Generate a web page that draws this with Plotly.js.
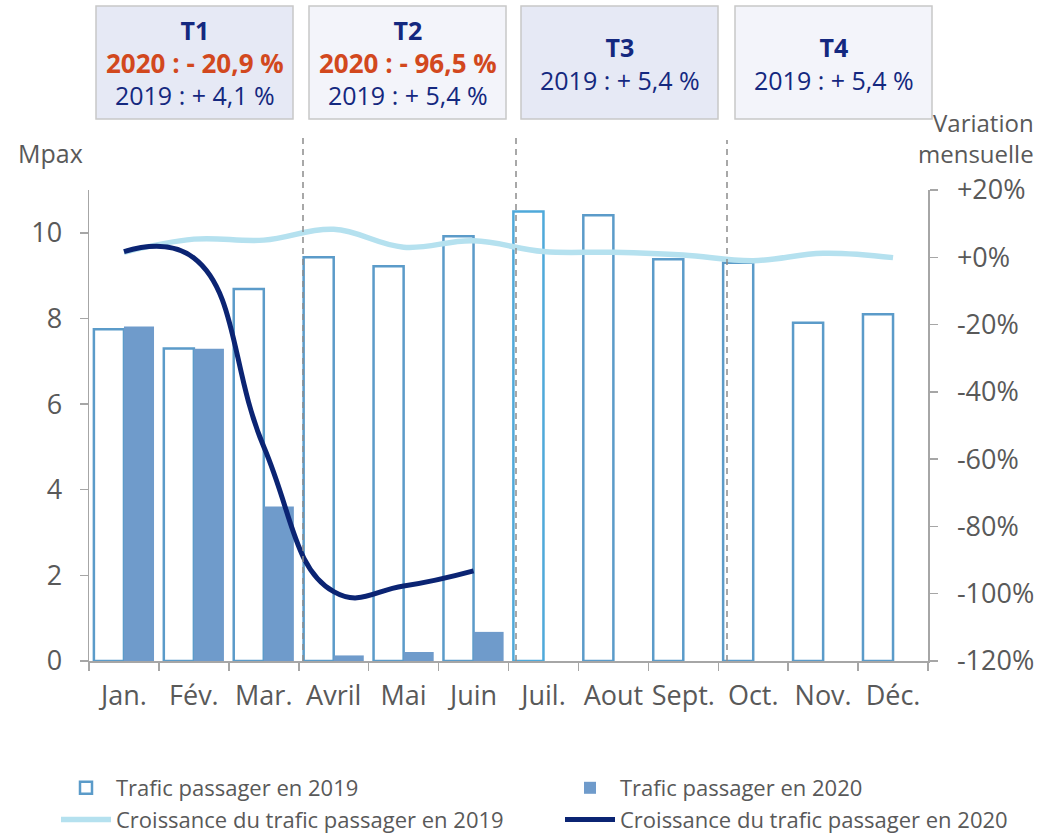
<!DOCTYPE html>
<html>
<head>
<meta charset="utf-8">
<script src="https://cdn.plot.ly/plotly-3.0.1.min.js"></script>
<style>html,body{margin:0;padding:0;background:#fff;}#chart{width:1037px;height:836px;}</style>
</head>
<body>
<div id="chart"></div>
<script>
// ---- Data ----
const months = ['Jan.', 'Fév.', 'Mar.', 'Avril', 'Mai', 'Juin', 'Juil.', 'Aout', 'Sept.', 'Oct.', 'Nov.', 'Déc.'];
const traffic2019 = [7.75, 7.30, 8.69, 9.43, 9.22, 9.92, 10.50, 10.41, 9.38, 9.30, 7.90, 8.10];
const traffic2020 = [7.81, 7.29, 3.61, 0.13, 0.21, 0.68];
const growth2019 = [1.5, 5.4, 5.1, 8.3, 3.0, 4.9, 1.7, 1.5, 0.7, -1.0, 1.2, -0.1];
const growth2020 = [1.7, -0.2, -56.3, -99.4, -97.7, -93.2];
const rightTicks = [-120, -100, -80, -60, -40, -20, 0, 20];
const quarters = ['T1', 'T2', 'T3', 'T4'];
const q2020 = ['2020 : - 20,9 %', '2020 : - 96,5 %', null, null];
const q2019 = ['2019 : + 4,1 %', '2019 : + 5,4 %', '2019 : + 5,4 %', '2019 : + 5,4 %'];

// ---- Layout helpers (pixel -> paper) ----
const L = 89, R = 928, T = 190, B = 661;
const W = R - L, H = B - T;
const px2x = p => (p - L) / W;
const px2y = p => (B - p) / H;

const FONT = 'Open Sans, DejaVu Sans, sans-serif';
const GREY = '#595959';
const AXIS = '#A6A6A6';
const NAVY = '#14287F';
const ORANGE = '#D2481E';

const outlineColors = months.map((m, i) => i === 6 ? '#4FA9DA' : '#5B9BC9');

const traces = [
  {
    type: 'bar', name: 'Trafic passager en 2019', x: months, y: traffic2019,
    marker: {color: '#FFFFFF', line: {color: outlineColors, width: 2.5}},
    legend: 'legend'
  },
  {
    type: 'bar', name: 'Trafic passager en 2020', x: months.slice(0, traffic2020.length), y: traffic2020,
    marker: {color: '#6F9BCB', line: {color: '#6F9BCB', width: 0}},
    legend: 'legend2'
  },
  {
    type: 'scatter', mode: 'lines', name: 'Croissance du trafic passager en 2019', x: months, y: growth2019,
    yaxis: 'y2', line: {color: '#B5E1EF', width: 5.5, shape: 'spline', smoothing: 1.1},
    legend: 'legend'
  },
  {
    type: 'scatter', mode: 'lines', name: 'Croissance du trafic passager en 2020',
    x: months.slice(0, growth2020.length), y: growth2020,
    yaxis: 'y2', line: {color: '#0B2473', width: 5, shape: 'spline', smoothing: 1.3},
    legend: 'legend2'
  }
];

// Quarter boxes
const boxLeft = [96, 309, 521, 735];
const boxW = 197;
const shapes = [];
const annotations = [];
boxLeft.forEach((bx, i) => {
  shapes.push({
    type: 'rect', xref: 'paper', yref: 'paper',
    x0: px2x(bx), x1: px2x(bx + boxW), y0: px2y(119), y1: px2y(6),
    fillcolor: i % 2 === 0 ? '#E6E9F5' : '#F3F4FA',
    line: {color: '#C8C8C8', width: 1.5}, layer: 'above'
  });
  let txt = '<b>' + quarters[i] + '</b><br>';
  if (q2020[i]) {
    txt += '<span style="font-size:26px;color:' + ORANGE + '"><b>' + q2020[i] + '</b></span><br>';
  }
  txt += q2019[i];
  annotations.push({
    xref: 'paper', yref: 'paper', x: px2x(bx + boxW / 2), y: px2y(q2020[i] ? 62 : 63), text: txt,
    showarrow: false, align: 'center', xanchor: 'center', yanchor: 'middle',
    font: {family: FONT, size: 25, color: NAVY}
  });
});

// Quarter separators (dashed)
[[303, 136], [516, 137], [727, 140]].forEach(([lx, top]) => {
  shapes.push({
    type: 'line', xref: 'paper', yref: 'paper', x0: px2x(lx), x1: px2x(lx), y0: 0, y1: px2y(top),
    line: {color: '#8C8C8C', width: 1.5, dash: '6px,5px'}, layer: 'above'
  });
});

// Axis titles
annotations.push({xref: 'paper', yref: 'paper', x: px2x(16), y: px2y(153), text: 'Mpax', showarrow: false,
  xanchor: 'left', yanchor: 'middle', font: {family: FONT, size: 25, color: GREY}});
annotations.push({xref: 'paper', yref: 'paper', x: px2x(1036), y: px2y(138), text: 'Variation<br>mensuelle',
  showarrow: false, align: 'right', xanchor: 'right', yanchor: 'middle',
  font: {family: FONT, size: 24, color: GREY}});

const legendCommon = {
  orientation: 'v', yanchor: 'top', xanchor: 'left', xref: 'container', yref: 'container',
  itemwidth: 50, font: {family: FONT, size: 22, color: GREY}, traceorder: 'normal',
  bgcolor: 'rgba(0,0,0,0)', tracegroupgap: 0
};

const layout = {
  width: 1037, height: 836,
  margin: {l: L, r: 1037 - R, t: T, b: 836 - B, pad: 0, autoexpand: false},
  paper_bgcolor: '#FFFFFF', plot_bgcolor: '#FFFFFF',
  font: {family: FONT, color: GREY},
  barmode: 'group', bargap: 0.14, bargroupgap: 0,
  showlegend: true,
  legend: Object.assign({}, legendCommon, {x: 56 / 1037, y: 1 - 767 / 836}),
  legend2: Object.assign({}, legendCommon, {x: 560 / 1037, y: 1 - 767 / 836}),
  xaxis: {
    type: 'category', range: [-0.5, 11.5], tickson: 'boundaries', ticks: 'outside', ticklen: 8,
    tickcolor: AXIS, tickwidth: 1.5, showline: true, linecolor: AXIS, linewidth: 1.5,
    showgrid: false, zeroline: false, tickfont: {family: FONT, size: 27, color: GREY},
    tickangle: 0, ticklabelstandoff: 10, automargin: false, fixedrange: true
  },
  yaxis: {
    range: [0, 11], dtick: 2, tick0: 0, ticks: 'outside', ticklen: 8, tickcolor: AXIS, tickwidth: 1.5,
    showline: true, linecolor: AXIS, linewidth: 1.5, showgrid: false, zeroline: false,
    tickfont: {family: FONT, size: 27, color: GREY}, ticklabelstandoff: 12, automargin: false, fixedrange: true
  },
  yaxis2: {
    overlaying: 'y', side: 'right', range: [-120, 20],
    tickvals: rightTicks, ticktext: rightTicks.map(v => (v >= 0 ? '+' : '') + v + '%'),
    ticks: 'outside', ticklen: 8, tickcolor: AXIS, tickwidth: 1.5,
    showline: true, linecolor: AXIS, linewidth: 1.5, showgrid: false, zeroline: false,
    tickfont: {family: FONT, size: 27, color: GREY}, ticklabelstandoff: 14, automargin: false, fixedrange: true
  },
  shapes: shapes,
  annotations: annotations
};

Plotly.newPlot('chart', traces, layout, {displayModeBar: false, staticPlot: true});
</script>
</body>
</html>
